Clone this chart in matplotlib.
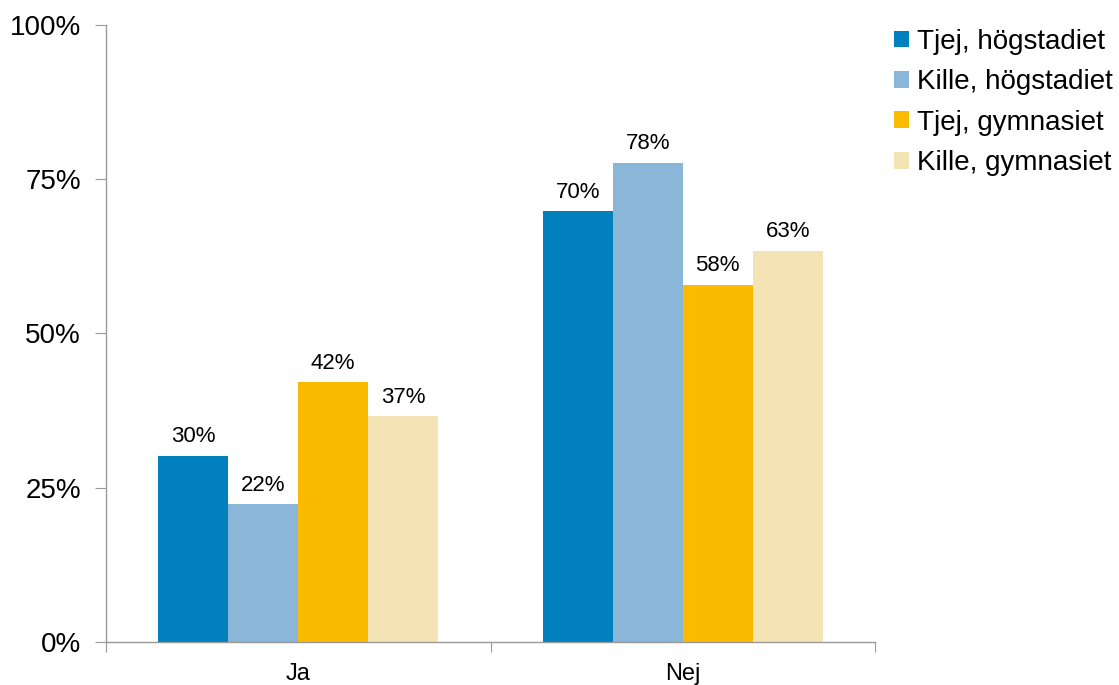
import numpy as np
import matplotlib.pyplot as plt

plt.rcParams['font.family'] = ['Liberation Sans', 'DejaVu Sans']

categories = ['Ja', 'Nej']
series = ['Tjej, högstadiet', 'Kille, högstadiet', 'Tjej, gymnasiet', 'Kille, gymnasiet']
values = [
    [30.2, 69.8],   # Tjej, högstadiet
    [22.3, 77.7],   # Kille, högstadiet
    [42.1, 57.9],   # Tjej, gymnasiet
    [36.6, 63.4],   # Kille, gymnasiet
]
colors = ['#0080BC', '#8AB6D8', '#F9BA00', '#F4E4B5']

fig = plt.figure(figsize=(11.19, 6.85), dpi=100)
ax = fig.add_axes([0.0947, 0.0628, 0.6873, 0.9007])

x = np.arange(len(categories))
w = 0.1818
for i, (name, vals, c) in enumerate(zip(series, values, colors)):
    pos = x + (i - 1.5) * w
    ax.bar(pos, vals, width=w, color=c, label=name, linewidth=0)
    for px, v in zip(pos, vals):
        ax.text(px, v + 1.4, '%d%%' % round(v), ha='center', va='bottom',
                fontsize=16, color='black')

ax.set_xlim(-0.5, 1.5)
ax.set_ylim(0, 100)
ax.set_yticks([0, 25, 50, 75, 100])
ax.set_yticklabels(['0%', '25%', '50%', '75%', '100%'], fontsize=20)

ax.set_xticks([-0.5, 0.5, 1.5])
ax.set_xticklabels([])
ax.set_xticks(x, minor=True)
ax.set_xticklabels(categories, minor=True, fontsize=17)
ax.tick_params(axis='x', which='major', length=7, color='#999999', direction='out')
ax.tick_params(axis='x', which='minor', length=0, pad=15)
ax.tick_params(axis='y', length=8, color='#999999', pad=10)

for s in ['top', 'right']:
    ax.spines[s].set_visible(False)
for s in ['left', 'bottom']:
    ax.spines[s].set_color('#999999')
    ax.spines[s].set_linewidth(1)

ax.legend(loc='upper left', bbox_to_anchor=(1.01, 1.012), frameon=False,
          fontsize=20, handlelength=0.55, handleheight=0.55, handletextpad=0.3,
          labelspacing=0.52, borderaxespad=0)

fig.savefig('out.png', dpi=100)
